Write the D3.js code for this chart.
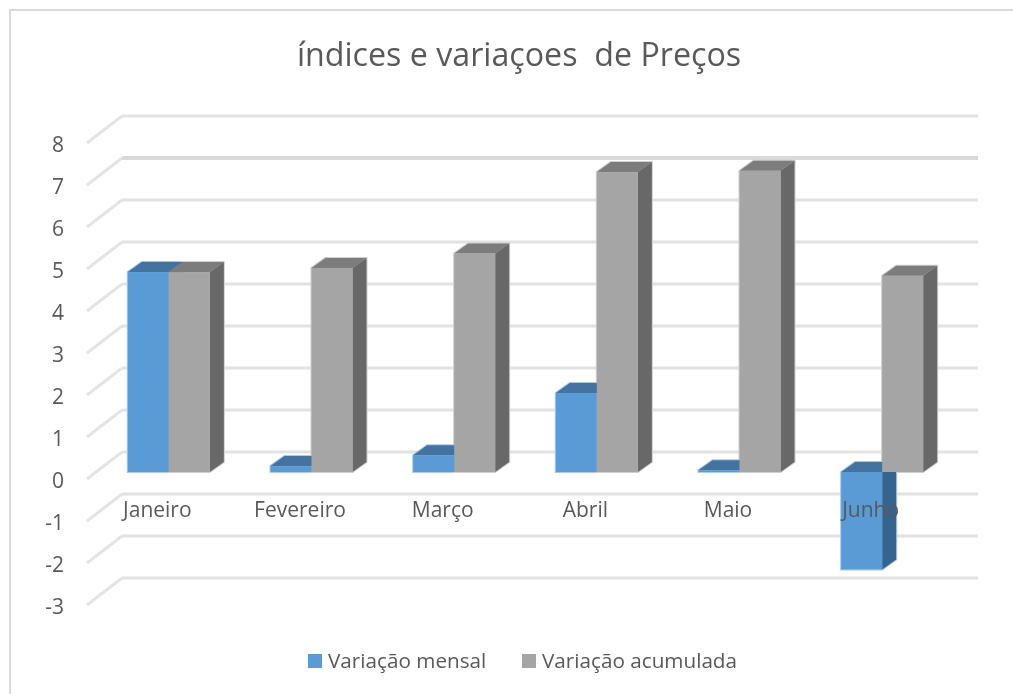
<!DOCTYPE html>
<html><head><meta charset="utf-8">
<script src="https://cdnjs.cloudflare.com/ajax/libs/d3/7.8.5/d3.min.js"></script>
<style>
html,body{margin:0;padding:0;background:#fff}
svg{display:block;filter:blur(0.35px)}
text{font-family:"Open Sans",sans-serif;fill:#595959;white-space:pre}
</style></head><body>
<svg id="c" width="1013" height="694"></svg>
<script>
const titleText = "índices e variaçoes  de Preços";
const categories = ["Janeiro","Fevereiro","Março","Abril","Maio","Junho"];
const seriesNames = ["Variação mensal","Variação acumulada"];
const variacaoMensal = [4.76,0.14,0.4,1.88,0.04,-2.32];
const variacaoAcumulada = [4.76,4.86,5.2,7.14,7.17,4.67];
const yTicks = [-3,-2,-1,0,1,2,3,4,5,6,7,8];

const W=1013,H=694;
const depth={dx:14,dy:10};          // bar depth
const floor={dx:35,dy:27};          // depth of the gridline walls
const palette={
  mensal:{face:"#5b9bd5",top:"#44739f",side:"#36648f",halo:"#a9c9e8"},
  acum:{face:"#a5a5a5",top:"#7c7c7c",side:"#686868",halo:"#cfcfcf"}
};
const svg=d3.select("#c");

// frame
svg.append("path").attr("d",`M10,${H}V10H1013`).attr("fill","none").attr("stroke","#d9d9d9").attr("stroke-width",2);

// scales
const y=d3.scaleLinear().domain([-3,8]).range([598,136]);
const frontY=v=>y(v)+7;
const backY=v=>frontY(v)-floor.dy;
const xFront=d3.scaleBand().domain(categories).range([87,943]);
const x0=d3.scaleBand().domain(categories).range([97.5,953.5]).paddingInner(0.425).paddingOuter(0.2125);
const x1=d3.scaleBand().domain([0,1]).range([0,x0.bandwidth()]);

// title
svg.append("text").attr("x",519).attr("y",66).attr("text-anchor","middle")
  .style("font-size","32.2px").text(titleText);

// gridlines
const grid=svg.append("g").attr("fill","none");
grid.selectAll("path.wall").data(yTicks).join("path").attr("class","wall")
  .attr("d",v=>d3.line()([[xFront.range()[0],frontY(v)],[xFront.range()[0]+floor.dx,backY(v)]]))
  .attr("stroke","#e4e4e4").attr("stroke-width",3);
grid.selectAll("path.back").data(yTicks).join("path").attr("class","back")
  .attr("d",v=>d3.line()([[xFront.range()[0]+floor.dx,backY(v)],[xFront.range()[1]+floor.dx,backY(v)]]))
  .attr("stroke",v=>v===7?"#d9d9d9":"#e2e2e2")
  .attr("stroke-width",v=>v===7?4:3);

// y axis labels
const yAxis=d3.axisLeft(d3.scaleLinear().domain(y.domain()).range(y.range().map(d=>d+7))).tickValues(yTicks).tickSize(0).tickPadding(0).tickFormat(d=>String(d));
const yG=svg.append("g").attr("transform","translate(64,1.5)").call(yAxis);
yG.select(".domain").remove();
yG.selectAll("text").style("font-size","21px").style("font-family",'"Open Sans",sans-serif').attr("fill","#595959");

// bars: halos first, then cuboids of series 0 and series 1
const geom=(v,i,idx)=>{
  const l=x0(categories[i])+x1(idx), r=l+x1.bandwidth();
  return {l,r,t:y(Math.max(v,0)),b:y(Math.min(v,0))};
};
const {dx,dy}=depth;
function drawHalo(values,idx,col){
  values.forEach((v,i)=>{
    const {l,r,t,b}=geom(v,i,idx);
    svg.append("path").attr("fill",col.halo).attr("stroke",col.halo).attr("stroke-width",2)
      .attr("d",`M${l},${b}V${t}L${l+dx},${t-dy}H${r+dx}V${b-dy}L${r},${b}Z`);
  });
}
function drawSeries(values,idx,col){
  const g=svg.append("g");
  values.forEach((v,i)=>{
    const {l,r,t,b}=geom(v,i,idx);
    g.append("path").attr("fill",col.side).attr("d",`M${r},${t}L${r+dx},${t-dy}V${b-dy}L${r},${b}Z`);
    g.append("path").attr("fill",col.top).attr("d",`M${l},${t}L${l+dx},${t-dy}H${r+dx}L${r},${t}Z`);
    g.append("rect").attr("x",l).attr("y",t).attr("width",r-l).attr("height",b-t).attr("fill",col.face);
  });
}
drawHalo(variacaoMensal,0,palette.mensal);
drawHalo(variacaoAcumulada,1,palette.acum);
drawSeries(variacaoMensal,0,palette.mensal);
drawSeries(variacaoAcumulada,1,palette.acum);

// category labels
const xAxis=d3.axisBottom(xFront).tickSize(0).tickPadding(0);
const xG=svg.append("g").attr("transform","translate(-1,502)").call(xAxis);
xG.select(".domain").remove();
xG.selectAll("text").style("font-size","21px").style("font-family",'"Open Sans",sans-serif').attr("fill","#595959");

// legend
const legendX=[308,522];
const lg=svg.append("g");
seriesNames.forEach((n,i)=>{
  lg.append("rect").attr("x",legendX[i]).attr("y",654).attr("width",14).attr("height",14)
    .attr("fill",i?palette.acum.face:palette.mensal.face);
  lg.append("text").attr("x",legendX[i]+20).attr("y",668).style("font-size","20.7px").text(n);
});
</script></body></html>
